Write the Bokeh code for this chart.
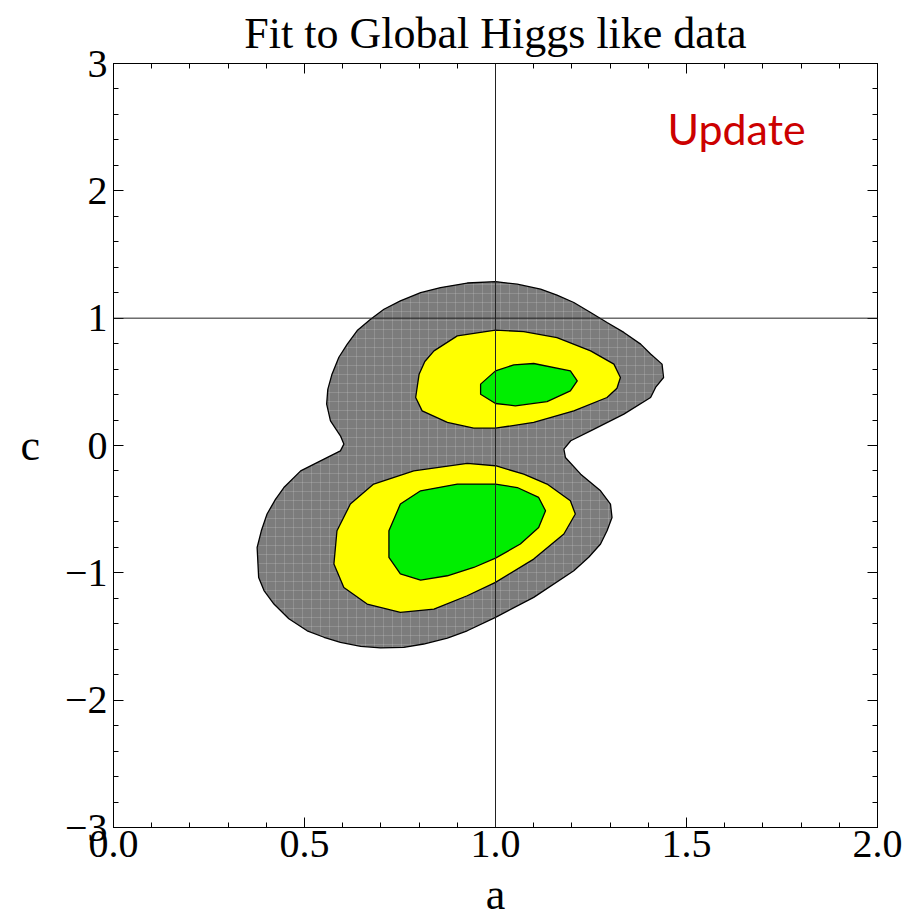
from bokeh.plotting import figure
from bokeh.models import (Range1d, LinearAxis, FixedTicker, CustomJSTickFormatter,
                          Span, Label, Title)
from bokeh.embed import file_html
from bokeh.resources import INLINE

# ---- data (contour boundaries; a = x, c = y) ----
gray_a = [1.000, 0.926, 0.856, 0.804, 0.751, 0.708, 0.673, 0.638, 0.612, 0.590,
          0.572, 0.561, 0.558, 0.568, 0.594, 0.603, 0.594, 0.551, 0.490, 0.446,
          0.424, 0.402, 0.387, 0.376, 0.380, 0.394, 0.420, 0.459, 0.507, 0.551,
          0.594, 0.647, 0.699, 0.760, 0.812, 0.874, 0.926, 1.000, 1.100, 1.205,
          1.244, 1.275, 1.292, 1.305, 1.301, 1.275, 1.223, 1.183, 1.179, 1.197,
          1.249, 1.336, 1.406, 1.419, 1.440, 1.436, 1.406, 1.380, 1.336, 1.292,
          1.249, 1.205, 1.161, 1.118, 1.057]
gray_c = [1.287, 1.276, 1.240, 1.200, 1.136, 1.070, 0.992, 0.903, 0.796, 0.693,
          0.560, 0.441, 0.325, 0.194, 0.076, 0.011, -0.042, -0.107, -0.199, -0.330,
          -0.423, -0.538, -0.670, -0.801, -1.036, -1.139, -1.245, -1.361, -1.455, -1.506,
          -1.546, -1.577, -1.590, -1.586, -1.559, -1.512, -1.455, -1.350, -1.193, -0.983,
          -0.878, -0.774, -0.670, -0.565, -0.460, -0.356, -0.225, -0.094, -0.028, 0.037,
          0.115, 0.246, 0.377, 0.456, 0.534, 0.639, 0.718, 0.796, 0.888, 0.966,
          1.045, 1.123, 1.181, 1.228, 1.267]

yellow_up_a = [1.000, 0.900, 0.839, 0.815, 0.800, 0.791, 0.808, 0.874, 0.943, 1.000,
               1.100, 1.205, 1.292, 1.318, 1.327, 1.310, 1.249, 1.161, 1.074]
yellow_up_c = [0.906, 0.861, 0.743, 0.660, 0.560, 0.377, 0.272, 0.181, 0.136, 0.136,
               0.181, 0.272, 0.377, 0.450, 0.534, 0.639, 0.743, 0.848, 0.895]

green_up_a = [1.000, 0.961, 0.961, 1.000, 1.052, 1.135, 1.196, 1.214, 1.196, 1.100, 1.048]
green_up_c = [0.586, 0.482, 0.403, 0.330, 0.312, 0.345, 0.429, 0.508, 0.586, 0.644, 0.633]

yellow_lo_a = [1.000, 0.926, 0.786, 0.681, 0.620, 0.585, 0.577, 0.603, 0.664, 0.751,
               0.839, 0.926, 1.000, 1.100, 1.179, 1.209, 1.196, 1.135, 1.074]
yellow_lo_c = [-0.159, -0.141, -0.199, -0.303, -0.460, -0.670, -0.931, -1.115, -1.245, -1.311,
               -1.285, -1.180, -1.075, -0.892, -0.695, -0.538, -0.434, -0.303, -0.225]

green_lo_a = [1.000, 0.900, 0.804, 0.751, 0.721, 0.721, 0.751, 0.804, 0.874, 0.943,
              1.000, 1.065, 1.113, 1.131, 1.113, 1.057]
green_lo_c = [-0.303, -0.303, -0.356, -0.460, -0.670, -0.879, -1.009, -1.057, -1.023, -0.958,
              -0.884, -0.774, -0.644, -0.513, -0.408, -0.330]

x_ticks = [0.0, 0.5, 1.0, 1.5, 2.0]
y_ticks = [-3, -2, -1, 0, 1, 2, 3]
x_minor = [i / 10 for i in range(0, 21)]
y_minor = [-3 + i * 0.2 for i in range(0, 31)]

SERIF = "Liberation Serif"

p = figure(width=919, height=924, output_backend="svg", toolbar_location=None,
           x_range=Range1d(0, 2), y_range=Range1d(-3, 3),
           x_axis_location=None, y_axis_location=None,
           min_border_left=113, min_border_right=42,
           min_border_top=63, min_border_bottom=97)
p.grid.visible = False
p.outline_line_color = "black"
p.outline_line_width = 1
p.background_fill_color = "white"
p.border_fill_color = "white"

p.title = Title(text="Fit to Global Higgs like data", align="center",
                text_font=SERIF, text_font_size="44px", text_font_style="normal",
                text_color="black", standoff=11)

# contour fills
p.patch(gray_a, gray_c, fill_color="#7c7c7c", line_color="black", line_width=1.3,
        hatch_pattern="cross", hatch_color="white", hatch_alpha=0.15,
        hatch_scale=9, hatch_weight=1)
p.patch(yellow_up_a, yellow_up_c, fill_color="#ffff00", line_color="black", line_width=1.3)
p.patch(yellow_lo_a, yellow_lo_c, fill_color="#ffff00", line_color="black", line_width=1.3)
p.patch(green_up_a, green_up_c, fill_color="#00ee00", line_color="black", line_width=1.3)
p.patch(green_lo_a, green_lo_c, fill_color="#00ee00", line_color="black", line_width=1.3)

p.add_layout(Span(location=1.0, dimension="height", line_color="#222222", line_width=1))
p.add_layout(Span(location=1.0, dimension="width", line_color="#222222", line_width=1))

xfmt = CustomJSTickFormatter(code="return tick.toFixed(1);")
yfmt = CustomJSTickFormatter(code="return tick < 0 ? '\u2212' + (-tick) : '' + tick;")
nofmt = CustomJSTickFormatter(code="return '';")


def style(ax, labels=True):
    ax.axis_line_color = "black"
    ax.major_tick_in = 10
    ax.major_tick_out = 0
    ax.minor_tick_in = 5
    ax.minor_tick_out = 0
    ax.major_tick_line_color = "black"
    ax.minor_tick_line_color = "black"
    ax.major_label_text_font = SERIF
    ax.major_label_text_font_size = "40px"
    ax.major_label_text_color = "black"
    if not labels:
        ax.major_label_standoff = 0


bottom = LinearAxis(ticker=FixedTicker(ticks=x_ticks, minor_ticks=x_minor), formatter=xfmt,
                    axis_label="a", axis_label_text_font=SERIF, axis_label_text_font_size="44px",
                    axis_label_text_font_style="normal", axis_label_text_color="black",
                    axis_label_standoff=10)
style(bottom)
bottom.major_label_standoff = 3
p.add_layout(bottom, "below")

left = LinearAxis(ticker=FixedTicker(ticks=y_ticks, minor_ticks=y_minor), formatter=yfmt,
                  axis_label="c", axis_label_text_font=SERIF, axis_label_text_font_size="44px",
                  axis_label_text_font_style="normal", axis_label_text_color="black",
                  axis_label_standoff=22)
style(left)
left.major_label_standoff = 6
if "axis_label_orientation" in left.properties():
    left.axis_label_orientation = "horizontal"
p.add_layout(left, "left")

top = LinearAxis(ticker=FixedTicker(ticks=x_ticks, minor_ticks=x_minor), formatter=nofmt)
style(top, labels=False)
p.add_layout(top, "above")

right = LinearAxis(ticker=FixedTicker(ticks=y_ticks, minor_ticks=y_minor), formatter=nofmt)
style(right, labels=False)
p.add_layout(right, "right")

p.add_layout(Label(x=1.45, y=2.49, text="Update", text_font="Lato", text_font_size="43px",
                   text_color="#cc0000", text_align="left", text_baseline="alphabetic"))

open("out.html", "w").write(file_html(p, INLINE))
